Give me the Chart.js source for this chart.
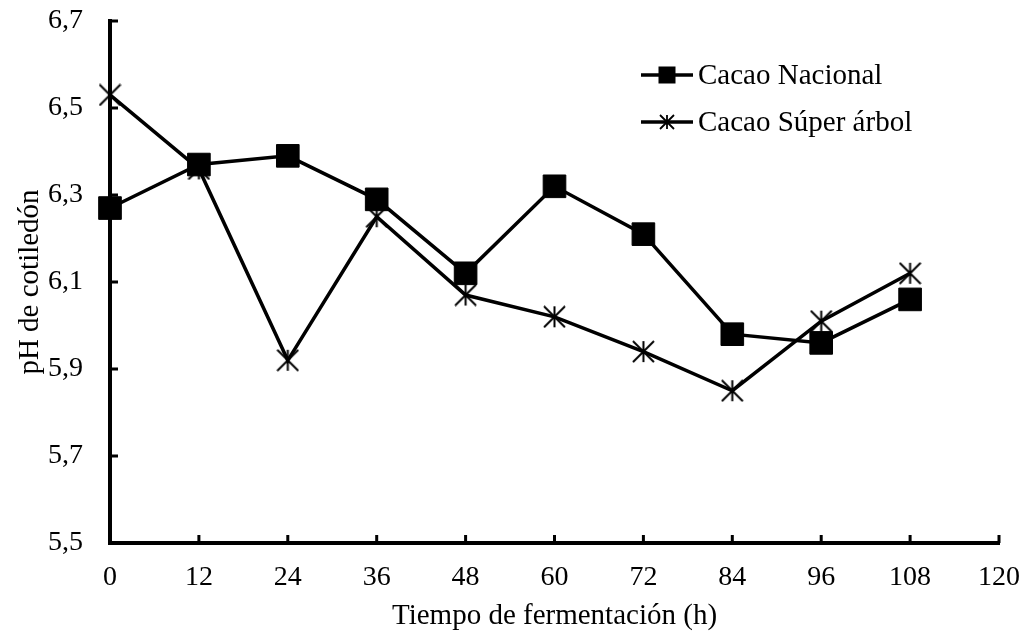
<!DOCTYPE html>
<html>
<head>
<meta charset="utf-8">
<script src="https://cdn.jsdelivr.net/npm/chart.js@4"></script>
<style>
  html, body { margin: 0; padding: 0; background: #fff; }
  #wrap { width: 1028px; height: 637px; }
</style>
</head>
<body>
<div id="wrap"><canvas id="phChart"></canvas></div>
<script>
// data
const hours = [0, 12, 24, 36, 48, 60, 72, 84, 96, 108];
const nacional = [6.27, 6.37, 6.39, 6.29, 6.12, 6.32, 6.21, 5.98, 5.96, 6.06];
const superArbol = [6.53, 6.36, 5.92, 6.25, 6.07, 6.02, 5.94, 5.85, 6.01, 6.12];
const xTicks = [0, 12, 24, 36, 48, 60, 72, 84, 96, 108, 120];
const yTicks = [5.5, 5.7, 5.9, 6.1, 6.3, 6.5, 6.7];
const seriesNames = ['Cacao Nacional', 'Cacao Súper árbol'];

const FONT = 'Liberation Serif';

// asterisk marker: vertical bar plus an X
function makeStar(size, lw) {
  const c = document.createElement('canvas');
  c.width = size;
  c.height = size;
  const g = c.getContext('2d');
  g.strokeStyle = '#000';
  g.lineWidth = lw;
  const m = size / 2, e = size - 1;
  g.beginPath();
  g.moveTo(m, 1); g.lineTo(m, e);
  g.moveTo(1, 1); g.lineTo(e, e);
  g.moveTo(e, 1); g.lineTo(1, e);
  g.stroke();
  return c;
}
const starBig = makeStar(23, 2);

function toPoints(ys) {
  return hours.map((h, i) => ({ x: h, y: ys[i] }));
}

// inward tick marks (the library only draws them outward)
const innerTicks = {
  id: 'innerTicks',
  afterDraw(chart) {
    const ctx = chart.ctx;
    const xs = chart.scales.x, ys = chart.scales.y;
    const a = chart.chartArea;
    ctx.save();
    ctx.strokeStyle = '#000';
    ctx.lineWidth = 3;
    ctx.beginPath();
    xTicks.forEach((v) => {
      const px = xs.getPixelForValue(v);
      ctx.moveTo(px, a.bottom);
      ctx.lineTo(px, a.bottom - 8);
    });
    yTicks.forEach((v) => {
      const py = ys.getPixelForValue(v);
      ctx.moveTo(a.left, py);
      ctx.lineTo(a.left + 8, py);
    });
    ctx.stroke();
    ctx.restore();
  },
};

// legend drawn as line + marker like the original
const lineLegend = {
  id: 'lineLegend',
  afterDraw(chart) {
    const ctx = chart.ctx;
    const x0 = 641, x1 = 693, rows = [75, 122];
    ctx.save();
    ctx.font = '29px ' + FONT;
    ctx.fillStyle = '#000';
    ctx.textBaseline = 'middle';
    rows.forEach((y, i) => {
      ctx.strokeStyle = '#000';
      ctx.lineWidth = 3.5;
      ctx.beginPath();
      ctx.moveTo(x0, y);
      ctx.lineTo(x1, y);
      ctx.stroke();
      const mx = (x0 + x1) / 2;
      if (i === 0) {
        ctx.fillRect(mx - 8.5, y - 8.5, 17, 17);
      } else {
        const s = makeStar(16, 1.8);
        ctx.drawImage(s, mx - 8, y - 8);
      }
      ctx.fillText(seriesNames[i], 698, y + 1);
    });
    ctx.restore();
  },
};

// keep label overflow from shrinking the plot area; layout padding handles it
function noOverflow(s) {
  s.paddingTop = 0;
  s.paddingBottom = 0;
  s.paddingLeft = 0;
  s.paddingRight = 0;
}

const ctx = document.getElementById('phChart').getContext('2d');
new Chart(ctx, {
  type: 'line',
  data: {
    datasets: [
      {
        label: seriesNames[0],
        data: toPoints(nacional),
        borderColor: '#000',
        backgroundColor: '#000',
        borderWidth: 3.5,
        pointStyle: 'rect',
        pointRadius: 16,
        pointBorderWidth: 1,
        pointBackgroundColor: '#000',
        pointBorderColor: '#000',
        tension: 0,
        clip: false,
      },
      {
        label: seriesNames[1],
        data: toPoints(superArbol),
        borderColor: '#000',
        backgroundColor: '#000',
        borderWidth: 3.5,
        pointStyle: starBig,
        pointRadius: 11,
        tension: 0,
        clip: false,
      },
    ],
  },
  options: {
    responsive: true,
    maintainAspectRatio: false,
    animation: false,
    events: [],
    layout: { padding: { left: 0, top: 21, right: 29, bottom: 0 } },
    plugins: {
      legend: { display: false },
      tooltip: { enabled: false },
    },
    scales: {
      x: {
        type: 'linear',
        min: 0,
        max: 120,
        afterBuildTicks: (s) => { s.ticks = xTicks.map((v) => ({ value: v })); },
        afterFit: (s) => { s.height = 94; noOverflow(s); },
        grid: { display: false, drawTicks: false },
        border: { display: true, color: '#000', width: 4 },
        ticks: {
          color: '#000',
          padding: 18,
          maxRotation: 0,
          font: { family: FONT, size: 28 },
        },
        title: {
          display: true,
          text: 'Tiempo de fermentación (h)',
          color: '#000',
          font: { family: FONT, size: 29 },
          padding: { top: 0, bottom: 3 },
        },
      },
      y: {
        type: 'linear',
        min: 5.5,
        max: 6.7,
        afterBuildTicks: (s) => { s.ticks = yTicks.map((v) => ({ value: v })); },
        afterFit: (s) => { s.width = 110; noOverflow(s); },
        grid: { display: false, drawTicks: false },
        border: { display: true, color: '#000', width: 4 },
        ticks: {
          color: '#000',
          padding: 27,
          font: { family: FONT, size: 28 },
          callback: (v) => Number(v).toFixed(1).replace('.', ','),
        },
        title: {
          display: true,
          text: 'pH de cotiledón',
          color: '#000',
          font: { family: FONT, size: 29 },
          padding: { top: 13, bottom: 0 },
        },
      },
    },
  },
  plugins: [innerTicks, lineLegend],
});
</script>
</body>
</html>
